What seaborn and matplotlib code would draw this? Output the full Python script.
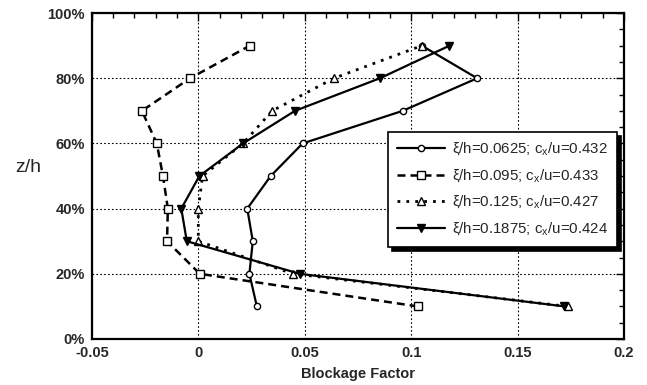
import matplotlib
matplotlib.use("Agg")
import matplotlib.pyplot as plt
import matplotlib.ticker as mticker
import numpy as np
import pandas as pd
import seaborn as sns

# Height levels (z/h) and blockage factor profiles at four streamwise stations
z_levels = [0.10, 0.20, 0.30, 0.40, 0.50, 0.60, 0.70, 0.80, 0.90]
bf_0625 = [0.0275, 0.024, 0.0256, 0.023, 0.034, 0.049, 0.096, 0.131, 0.105]
bf_095 = [0.103, 0.0007, -0.0147, -0.0143, -0.0166, -0.0195, -0.0265, -0.0039, 0.0242]
bf_125 = [0.1735, 0.0445, 0.0, 0.0, 0.002, 0.021, 0.0347, 0.0637, 0.105]
bf_1875 = [0.172, 0.0477, -0.0054, -0.008, 0.0005, 0.021, 0.0454, 0.0853, 0.118]

labels = [
    r"ξ/h=0.0625; c$_\mathregular{x}$/u=0.432",
    r"ξ/h=0.095; c$_\mathregular{x}$/u=0.433",
    r"ξ/h=0.125; c$_\mathregular{x}$/u=0.427",
    r"ξ/h=0.1875; c$_\mathregular{x}$/u=0.424",
]
x_ticks = [-0.05, 0, 0.05, 0.1, 0.15, 0.2]
x_tick_labels = ["-0.05", "0", "0.05", "0.1", "0.15", "0.2"]

sns.set_theme(style="white")
plt.rcParams["font.family"] = ["Liberation Sans", "DejaVu Sans"]
plt.rcParams["mathtext.fontset"] = "custom"
plt.rcParams["mathtext.rm"] = "Liberation Sans"

fig = plt.figure(figsize=(6.47, 3.85), dpi=100)
ax = fig.add_axes([0.142, 0.1195, 0.8225, 0.8465])

styles = [
    dict(linestyle="-", linewidth=1.6, marker="o", markersize=4.5,
         markerfacecolor="white", markeredgecolor="black", markeredgewidth=1.0),
    dict(linestyle=(0, (3.2, 2.0)), linewidth=1.8, marker="s", markersize=6,
         markerfacecolor="white", markeredgecolor="black", markeredgewidth=1.0),
    dict(linestyle=(0, (1.0, 2.2)), linewidth=2.0, marker="^", markersize=6,
         markerfacecolor="white", markeredgecolor="black", markeredgewidth=1.0),
    dict(linestyle="-", linewidth=1.6, marker="v", markersize=6,
         markerfacecolor="black", markeredgecolor="black", markeredgewidth=1.0),
]

for vals, lab, st in zip([bf_0625, bf_095, bf_125, bf_1875], labels, styles):
    df = pd.DataFrame({"bf": vals, "z": z_levels})
    sns.lineplot(data=df, x="bf", y="z", sort=False, estimator=None,
                 color="black", label=lab, ax=ax, **st)

ax.set_xlim(-0.05, 0.2)
ax.set_ylim(0, 1.0)
ax.set_xticks(x_ticks)
ax.set_xticklabels(x_tick_labels)
ax.xaxis.set_minor_locator(mticker.MultipleLocator(0.01))
ax.yaxis.set_major_locator(mticker.MultipleLocator(0.2))
ax.yaxis.set_minor_locator(mticker.MultipleLocator(0.05))
ax.yaxis.set_major_formatter(mticker.PercentFormatter(xmax=1, decimals=0))

ax.grid(True, which="major", color="black", linestyle=(0, (1.5, 2.0)), linewidth=0.8)
ax.set_axisbelow(True)

ax.tick_params(which="both", direction="in", top=True, right=True, color="black")
ax.tick_params(which="major", length=6, width=1.0, labelsize=10.5, pad=5)
ax.tick_params(which="minor", length=3.5, width=1.0)
for lab in ax.get_xticklabels() + ax.get_yticklabels():
    lab.set_fontweight("bold")
for sp in ax.spines.values():
    sp.set_color("black")
    sp.set_linewidth(1.6)

ax.set_xlabel("Blockage Factor", fontsize=10.5, fontweight="bold", labelpad=5)
ax.set_ylabel("z/h", fontsize=14, rotation=0, labelpad=22)
ax.yaxis.set_label_coords(-0.12, 0.5)

leg = ax.legend(loc="upper left", bbox_to_anchor=(0.542, 0.658), fontsize=10.8,
                frameon=True, fancybox=False, edgecolor="black",
                shadow={"color": "black", "alpha": 1.0, "ox": 3, "oy": -3},
                handlelength=3.2, borderpad=0.6, labelspacing=0.6, handletextpad=0.5)
leg.get_frame().set_linewidth(1.2)
leg.get_frame().set_alpha(1.0)

fig.savefig("out.png", dpi=100)
